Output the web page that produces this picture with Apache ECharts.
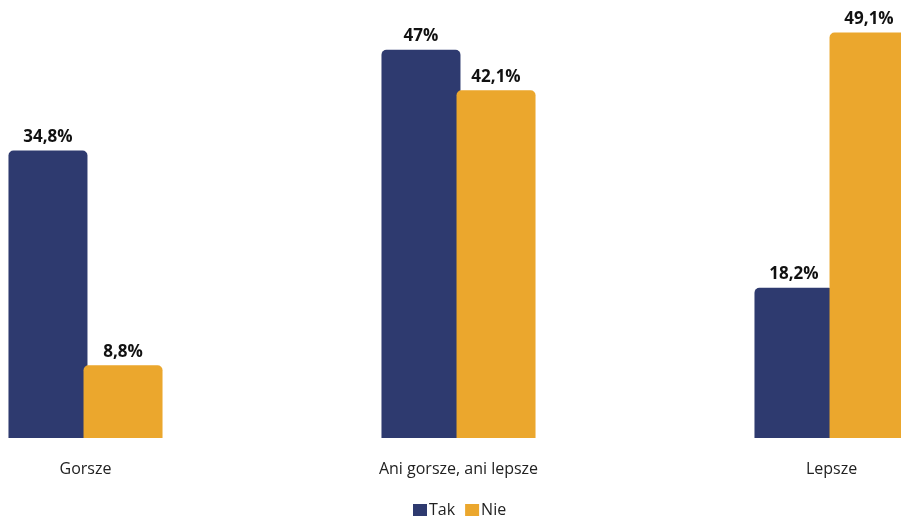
<!DOCTYPE html>
<html>
<head>
<meta charset="utf-8">
<script src="https://cdn.jsdelivr.net/npm/echarts@6/dist/echarts.min.js"></script>
<style>
  html, body { margin: 0; padding: 0; background: #fff; }
  #chart { width: 901px; height: 517px; }
</style>
</head>
<body>
<div id="chart"></div>
<script>
// Answer categories and percentage shares per group
const categories = ['Gorsze', 'Ani gorsze, ani lepsze', 'Lepsze'];
const takValues = [34.8, 47, 18.2];
const nieValues = [8.8, 42.1, 49.1];
const seriesNames = ['Tak', 'Nie'];

const FONT = '"Open Sans", "Noto Sans", sans-serif';

// Polish decimal comma for value labels
function pct(v) {
  return String(v).replace('.', ',') + '%';
}

const labelStyle = {
  show: true,
  position: 'top',
  distance: 5,
  formatter: p => pct(p.value),
  fontFamily: FONT,
  fontWeight: 'bold',
  fontSize: 17,
  color: '#111'
};

const chart = echarts.init(document.getElementById('chart'), null, { renderer: 'canvas' });
chart.setOption({
  animation: false,
  backgroundColor: '#fff',
  // plot area intentionally wider than the canvas so the outer groups run to the edges
  grid: { left: -101, width: 1119, top: 25, bottom: 79, outerBoundsMode: 'none', containLabel: false },
  legend: {
    data: seriesNames,
    left: 408,
    top: 502,
    padding: [0, 5],
    itemWidth: 14,
    itemHeight: 12,
    itemGap: 10,
    icon: 'rect',
    textStyle: { fontFamily: FONT, fontSize: 16, color: '#222', padding: [0, 0, 0, -3] }
  },
  xAxis: {
    type: 'category',
    data: categories,
    axisLine: { show: false },
    axisTick: { show: false },
    axisLabel: { margin: 23, fontFamily: FONT, fontSize: 16, color: '#222' }
  },
  yAxis: {
    type: 'value',
    min: 0,
    max: 50,
    show: false,
    splitLine: { show: false }
  },
  series: [
    {
      name: seriesNames[0],
      type: 'bar',
      data: takValues,
      barWidth: 79,
      barGap: '-5%',
      itemStyle: { color: '#2E3A6F', borderRadius: [5, 5, 0, 0] },
      label: labelStyle
    },
    {
      name: seriesNames[1],
      type: 'bar',
      data: nieValues,
      barWidth: 79,
      itemStyle: { color: '#EBA72D', borderRadius: [5, 5, 0, 0] },
      label: labelStyle
    }
  ]
});
</script>
</body>
</html>
